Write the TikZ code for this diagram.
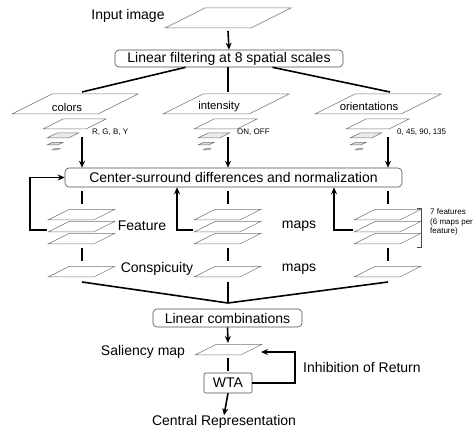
\documentclass[tikz,border=0pt]{standalone}
\usepackage{fontspec}
\setmainfont{Liberation Sans}
\usetikzlibrary{arrows.meta, calc}

% one flat map: bottom-left x, y, scale
\newcommand{\mapplane}[4][]{\draw[plane,#1] (#2,#3) -- ++(86*#4,0) -- ++(40*#4,-20*#4) -- ++(-86*#4,0) -- cycle;}

\begin{document}
\begin{tikzpicture}[x=1pt,y=-1pt,
  plane/.style={draw=black!55, line width=0.5pt},
  box/.style={draw=black!70, line width=0.6pt, rounded corners=4pt, inner sep=0pt, font=\fontsize{14}{16}\selectfont},
  lbl/.style={inner sep=0pt, font=\fontsize{14}{16}\selectfont},
  small/.style={inner sep=0pt, font=\fontsize{11.3}{13}\selectfont},
  tiny/.style={inner sep=0pt, font=\fontsize{8}{9.5}\selectfont, align=left},
  link/.style={line width=1.6pt},
  arr/.style={line width=1.6pt, -{Stealth[length=7pt,width=6pt]}}]
\useasboundingbox (0,0) rectangle (474,430);

% input
\node[lbl] (inlbl) at (128,16) {Input image};
\mapplane{165}{28}{1}
\coordinate (inbot) at (228,31);
\node[box, minimum width=228pt, minimum height=17pt] (filt) at (229,58.5) {Linear filtering at 8 spatial scales};
\draw[arr] (inbot) -- (filt.north);

% three pyramids
\foreach \px in {12,163,315} {
  \mapplane{\px}{114}{1}
  \mapplane{\px+31}{129}{0.5}
  \mapplane[fill=black!8]{\px+35}{138}{0.25}
  \mapplane[fill=black!15]{\px+35}{145}{0.125}
  \mapplane[fill=black!15]{\px+40}{150}{0.0625}
}
\node[small] (colors) at (67,107) {colors};
\node[small] (inten) at (219,106.5) {intensity};
\node[small] (orient) at (369,106.5) {orientations};
\node[tiny, anchor=west] (rgby) at (92,132) {R, G, B, Y};
\node[tiny, anchor=west] (onoff) at (237,132.5) {ON, OFF};
\node[tiny, anchor=west] (angles) at (397,132) {0, 45, 90, 135};

\coordinate (coltop) at (82,92);
\coordinate (inttop) at (228,92);
\coordinate (orntop) at (390,92);
\draw[link] ($(filt.south west)!0.31!(filt.south east)$) -- (coltop);
\draw[link] (filt.south -| inttop) -- (inttop);
\draw[link] ($(filt.south west)!0.69!(filt.south east)$) -- (orntop);

\node[box, minimum width=337pt, minimum height=19pt] (csd) at (233.5,177.5) {Center-surround differences and normalization};
\foreach \cx in {82,228,388} {
  \coordinate (pyr) at (\cx,137);
  \draw[arr] (pyr) -- (pyr |- csd.north);
  \draw[link] (\cx,191) -- (\cx,204);
  \draw[link] (\cx,248) -- (\cx,261);
}

% feature and conspicuity maps
\foreach \cx in {48,194,354} {
  \foreach \yy in {220,232,244} {\mapplane{\cx}{\yy}{0.53}}
  \mapplane{\cx}{277}{0.53}
}
\node[lbl] (feat) at (142,226) {Feature};
\node[lbl] (fmaps) at (299,226) {maps};
\node[lbl] (consp) at (157,269) {Conspicuity};
\node[lbl] (cmaps) at (299,269) {maps};

% feedback loops
\coordinate (fb1) at (47,230);
\coordinate (fb2) at (193,230);
\coordinate (fb3) at (353,230);
\draw[arr] (fb1) -- (30,230) |- (csd.west);
\draw[arr] (fb2) -- (177,230) -- (177,230 |- csd.south);
\draw[arr] (fb3) -- (334,230) -- (334,230 |- csd.south);

\draw[line width=0.6pt, black!70] (417,208) -- (421,208) -- (421,247) -- (417,247);
\node[tiny, anchor=west] (seven) at (430,222) {7 features\\(6 maps per\\feature)};

% combination
\coordinate (join) at (228,303);
\draw[link] (82,282) -- (join);
\draw[link] (228,282) -- (join);
\draw[link] (388,282) -- (join);
\node[box, minimum width=149pt, minimum height=18pt] (lincomb) at (227.5,318) {Linear combinations};

\coordinate (salbot) at (228,343);
\draw[arr] (lincomb.south) -- (salbot);
\mapplane{195}{355}{0.53}
\node[lbl] (sal) at (143,352) {Saliency map};
\node[box, rounded corners=2pt, minimum width=48pt, minimum height=20pt] (wta) at (228,383) {WTA};
\draw[link] (228,358) -- (228,371);
\coordinate (salin) at (261,352);
\draw[arr] (wta.east) -- (295,383) |- (salin);
\node[lbl, anchor=west] (ior) at (303,367) {Inhibition of Return};
\node[lbl] (central) at (224,422) {Central Representation};
\draw[arr] (wta.south) -- (central.north);
\end{tikzpicture}
\end{document}
